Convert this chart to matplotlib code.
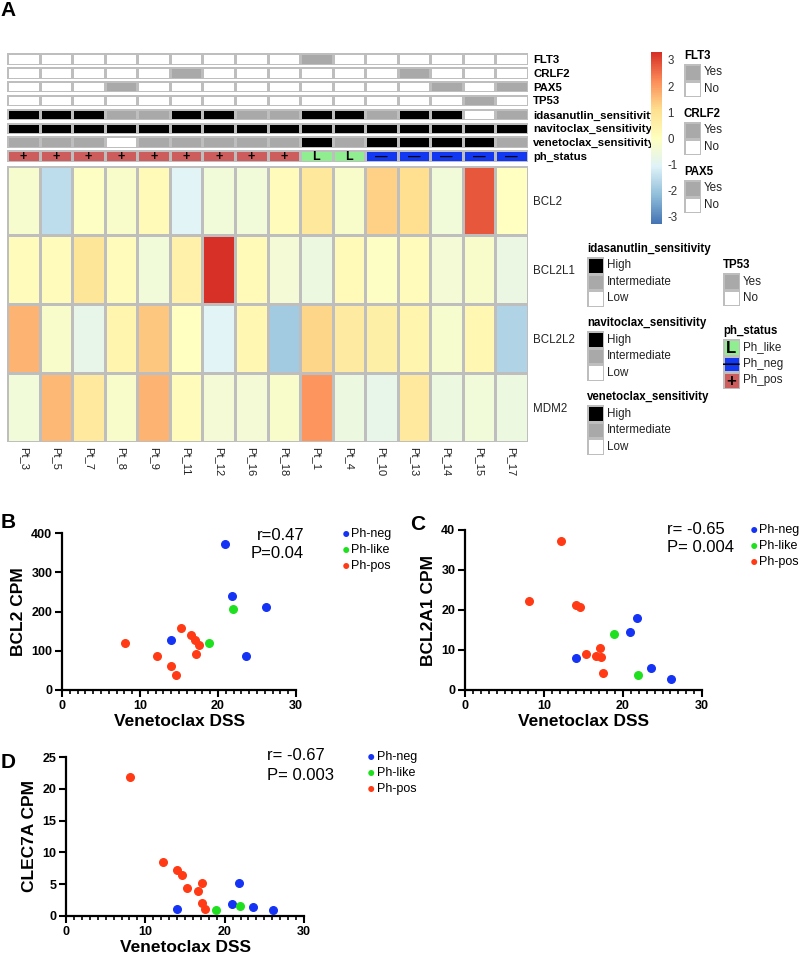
import numpy as np
import matplotlib
matplotlib.use("Agg")
import matplotlib.pyplot as plt
from matplotlib.colors import LinearSegmentedColormap, ListedColormap

plt.rcParams['font.family'] = ['Liberation Sans', 'DejaVu Sans']

# ---- heatmap data (panel A) ----
patients = ["Pt_3", "Pt_5", "Pt_7", "Pt_8", "Pt_9", "Pt_11", "Pt_12", "Pt_16", "Pt_18",
            "Pt_1", "Pt_4", "Pt_10", "Pt_13", "Pt_14", "Pt_15", "Pt_17"]
genes = ["BCL2", "BCL2L1", "BCL2L2", "MDM2"]
expr_bcl2 = [-0.3, -1.5, -0.1, -0.2, 0.2, -1.0, -0.5, -0.5, 0.1, 0.85, -0.2, 1.3, 1.1, -0.5, 2.8, 0.0]
expr_bcl2l1 = [0.1, 0.1, 0.9, 0.1, -0.5, 0.5, 3.3, 0.2, -0.4, -0.6, 0.15, -0.1, 0.1, -0.4, -0.2, -0.7]
expr_bcl2l2 = [1.7, -0.2, -0.8, 0.4, 1.4, 0.0, -1.0, 0.3, -1.9, 1.2, 0.7, 0.6, 0.4, -0.3, 0.3, -1.7]
expr_mdm2 = [-0.5, 1.6, 0.8, -0.2, 1.7, 0.1, -0.4, -0.4, -0.2, 2.1, -0.6, -0.8, 0.8, -0.6, -0.5, -0.6]

flt3 = ["No"] * 9 + ["Yes"] + ["No"] * 6
crlf2 = ["No", "No", "No", "No", "No", "Yes", "No", "No", "No", "No", "No", "No", "Yes", "No", "No", "No"]
pax5 = ["No", "No", "No", "Yes", "No", "No", "No", "No", "No", "No", "No", "No", "No", "Yes", "No", "Yes"]
tp53 = ["No"] * 14 + ["Yes", "No"]
idasanutlin = ["High", "High", "High", "Intermediate", "Intermediate", "High", "High", "Intermediate",
               "Intermediate", "High", "High", "Intermediate", "High", "High", "Low", "Intermediate"]
navitoclax = ["High"] * 16
venetoclax = ["Intermediate", "Intermediate", "Intermediate", "Low", "Intermediate", "Intermediate",
              "Intermediate", "Intermediate", "Intermediate", "High", "Intermediate", "High", "High",
              "High", "High", "Intermediate"]
ph_status = ["Ph_pos"] * 9 + ["Ph_like"] * 2 + ["Ph_neg"] * 5

# ---- scatter data (panels B-D) ----
dss_neg = [14.0, 20.9, 21.8, 23.6, 26.1]
dss_like = [18.9, 21.9]
dss_pos = [8.1, 12.2, 14.0, 14.6, 15.3, 16.6, 17.1, 17.2, 17.5]
bcl2_neg = [127, 371, 239, 86, 211]
bcl2_like = [121, 207]
bcl2_pos = [119, 87, 61, 39, 158, 140, 127, 92, 115]
bcl2a1_neg = [8.0, 14.5, 18.0, 5.4, 2.75]
bcl2a1_like = [13.9, 3.7]
bcl2a1_pos = [22.3, 37.2, 21.2, 20.75, 8.9, 8.5, 10.5, 8.25, 4.2]
clec7a_neg = [1.1, 1.9, 5.2, 1.4, 0.9]
clec7a_like = [1.0, 1.55]
clec7a_pos = [21.8, 8.5, 7.2, 6.4, 4.4, 3.9, 2.1, 5.2, 1.05]

W, H = 800, 959
fig = plt.figure(figsize=(W / 100, H / 100), dpi=100)
BORDER = "#BEBEBE"
GREY = "#A9A9A9"
VMIN, VMAX = -3.27, 3.3

# pheatmap-like palette
cmap = LinearSegmentedColormap.from_list(
    "rdylbu", ["#4575B4", "#91BFDB", "#E0F3F8", "#FFFFBF", "#FEE090", "#FC8D59", "#D73027"], N=100)


def px_axes(x0, y0, x1, y1):
    return fig.add_axes([x0 / W, 1 - y1 / H, (x1 - x0) / W, (y1 - y0) / H])


def ftext(x, y, s, **kw):
    return fig.text(x / W, 1 - y / H, s, **kw)


# annotation rows
sens_levels = {"Low": 0, "Intermediate": 1, "High": 2}
yn_levels = {"No": 0, "Yes": 1}
ph_levels = {"Ph_like": 0, "Ph_neg": 1, "Ph_pos": 2}
ph_colors = ["#90EE90", "#1238F2", "#CD5C5C"]
ph_symbols = {"Ph_like": "L", "Ph_neg": "\u2014", "Ph_pos": "+"}

ann_rows = [
    ("FLT3", flt3, yn_levels, ["white", GREY]),
    ("CRLF2", crlf2, yn_levels, ["white", GREY]),
    ("PAX5", pax5, yn_levels, ["white", GREY]),
    ("TP53", tp53, yn_levels, ["white", GREY]),
    ("idasanutlin_sensitivity", idasanutlin, sens_levels, ["white", GREY, "black"]),
    ("navitoclax_sensitivity", navitoclax, sens_levels, ["white", GREY, "black"]),
    ("venetoclax_sensitivity", venetoclax, sens_levels, ["white", GREY, "black"]),
    ("ph_status", ph_status, ph_levels, ph_colors),
]

HX0, HX1 = 7.3, 527.7
n = len(patients)
for i, (name, vals, levels, colors) in enumerate(ann_rows):
    top = 53 + 13.9 * i
    ax = px_axes(HX0, top, HX1, top + 11.6)
    codes = np.array([[levels[v] for v in vals]])
    ax.pcolormesh(codes, cmap=ListedColormap(colors), vmin=-0.5, vmax=len(colors) - 0.5,
                  edgecolors=BORDER, linewidth=1)
    ax.set_xlim(0, n)
    ax.set_ylim(1, 0)
    for s in ax.spines.values():
        s.set_visible(False)
    ax.set_xticks([])
    ax.yaxis.tick_right()
    ax.set_yticks([0.5])
    ax.set_yticklabels([name], fontsize=8.2, fontweight="bold")
    ax.tick_params(axis="y", length=0, pad=4)
    if name == "ph_status":
        for j, v in enumerate(vals):
            ax.text(j + 0.5, 0.55, ph_symbols[v], ha="center", va="center",
                    fontsize=9, fontweight="bold", color="black")

# main heatmap
ax = px_axes(HX0, 166, HX1, 441.7)
expr = np.array([expr_bcl2, expr_bcl2l1, expr_bcl2l2, expr_mdm2])
ax.pcolormesh(expr, cmap=cmap, vmin=VMIN, vmax=VMAX, edgecolors=BORDER, linewidth=0.8)
ax.set_xlim(0, n)
ax.set_ylim(len(genes), 0)
for s in ax.spines.values():
    s.set_visible(False)
ax.set_xticks(np.arange(n) + 0.5)
ax.set_xticklabels(patients, rotation=270, fontsize=8, color="#222222")
ax.yaxis.tick_right()
ax.set_yticks(np.arange(len(genes)) + 0.5)
ax.set_yticklabels(genes, fontsize=8.3, color="#222222")
ax.tick_params(length=0, pad=4)

# colorbar
cax = px_axes(651, 52, 662, 224)
grad = np.linspace(VMIN, VMAX, 200).reshape(-1, 1)
cax.imshow(grad, cmap=cmap, vmin=VMIN, vmax=VMAX, aspect="auto", origin="lower",
           extent=[0, 1, VMIN, VMAX])
for s in cax.spines.values():
    s.set_visible(False)
cax.set_xticks([])
cax.yaxis.tick_right()
cax.set_yticks(range(-3, 4))
cax.set_yticklabels([str(t) for t in range(-3, 4)], fontsize=8.3, color="#333333")
cax.tick_params(length=0, pad=4)


def legend_block(x, y_title, title, labels, colors, symbols=None):
    ftext(x, y_title, title, fontsize=8.3, fontweight="bold", va="center")
    top = y_title + 8
    box = 16.5
    k = len(labels)
    lax = px_axes(x, top, x + box, top + box * k)
    lax.pcolormesh(np.arange(k).reshape(-1, 1), cmap=ListedColormap(colors),
                   vmin=-0.5, vmax=k - 0.5, edgecolors=BORDER, linewidth=1)
    lax.set_ylim(k, 0)
    lax.axis("off")
    for j, lab in enumerate(labels):
        ftext(x + 20, top + box * (j + 0.5), lab, fontsize=8.4, va="center", color="#222222")
        if symbols:
            lax.text(0.5, j + 0.55, symbols[j], ha="center", va="center",
                     fontsize=12, fontweight="bold", color="black")


yes_no = ["Yes", "No"]
sens = ["High", "Intermediate", "Low"]
legend_block(684, 56, "FLT3", yes_no, [GREY, "white"])
legend_block(684, 114, "CRLF2", yes_no, [GREY, "white"])
legend_block(684, 172, "PAX5", yes_no, [GREY, "white"])
legend_block(587, 249, "idasanutlin_sensitivity", sens, ["black", GREY, "white"])
legend_block(723, 265.3, "TP53", yes_no, [GREY, "white"])
legend_block(587, 323.3, "navitoclax_sensitivity", sens, ["black", GREY, "white"])
legend_block(723, 331, "ph_status", ["Ph_like", "Ph_neg", "Ph_pos"], ph_colors,
             symbols=["L", "\u2014", "+"])
legend_block(587, 397.3, "venetoclax_sensitivity", sens, ["black", GREY, "white"])

# ---- scatter panels ----
C_NEG, C_LIKE, C_POS = "#1433F5", "#1EE01E", "#FF3A14"


def scatter_panel(box, ylabel, ymax, ystep, neg, like, pos, r_txt, p_txt, txt_xy, txt_ha, leg_xy):
    ax = px_axes(*box)
    ax.scatter(dss_neg, neg, s=30, color=C_NEG, zorder=3, clip_on=False)
    ax.scatter(dss_like, like, s=30, color=C_LIKE, zorder=3, clip_on=False)
    ax.scatter(dss_pos, pos, s=30, color=C_POS, zorder=3, clip_on=False)
    ax.set_xlim(0, 30)
    ax.set_ylim(0, ymax)
    ax.set_xticks([0, 10, 20, 30])
    ax.set_xticks(np.arange(0, 31, 1), minor=True)
    ax.set_yticks(np.arange(0, ymax + 0.1, ystep))
    for s in ["top", "right"]:
        ax.spines[s].set_visible(False)
    for s in ["left", "bottom"]:
        ax.spines[s].set_linewidth(1.6)
    ax.tick_params(which="major", length=5, width=1.5, labelsize=9, pad=2)
    ax.tick_params(which="minor", axis="x", length=3, width=1.2)
    for lab in ax.get_xticklabels() + ax.get_yticklabels():
        lab.set_fontweight("bold")
    ax.set_xlabel("Venetoclax DSS", fontsize=12.5, fontweight="bold", labelpad=2)
    ax.set_ylabel(ylabel, fontsize=12.5, fontweight="bold", labelpad=4)
    tx, ty = txt_xy
    ftext(tx, ty, r_txt, fontsize=12, ha=txt_ha, va="center")
    ftext(tx, ty + 19, p_txt, fontsize=12, ha=txt_ha, va="center")
    lx, ly = leg_xy
    for j, (lab, col) in enumerate([("Ph-neg", C_NEG), ("Ph-like", C_LIKE), ("Ph-pos", C_POS)]):
        ftext(lx, ly + 16 * j, "\u25CF", fontsize=10, color=col, ha="center", va="center")
        ftext(lx + 5.5, ly + 16 * j, lab, fontsize=9, va="center")
    return ax


scatter_panel((62, 533, 296, 690), "BCL2 CPM", 400, 100, bcl2_neg, bcl2_like, bcl2_pos,
              "r=0.47", "P=0.04", (304, 535), "right", (346, 534))
scatter_panel((465, 530, 702, 690), "BCL2A1 CPM", 40, 10, bcl2a1_neg, bcl2a1_like, bcl2a1_pos,
              "r= -0.65", "P= 0.004", (667, 529), "left", (754, 530))
scatter_panel((66, 757, 304, 916), "CLEC7A CPM", 25, 5, clec7a_neg, clec7a_like, clec7a_pos,
              "r= -0.67", "P= 0.003", (267, 756), "left", (371, 757))

for letter, (x, y) in {"A": (8, 11), "B": (8, 523), "C": (418, 524), "D": (8, 762)}.items():
    ftext(x, y, letter, fontsize=15, fontweight="bold", ha="center", va="center")

fig.savefig("out.png", dpi=100)
